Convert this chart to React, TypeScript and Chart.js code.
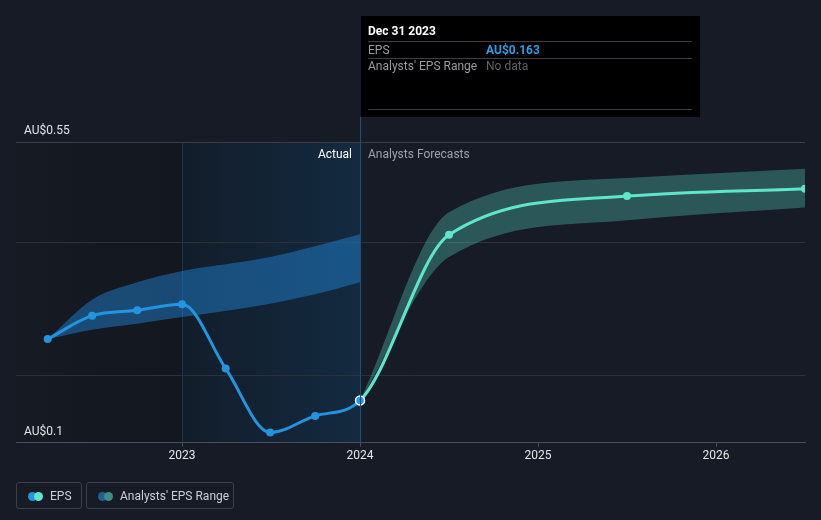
import React, { useEffect, useRef } from "react";
import { Chart, registerables } from "chart.js";

Chart.register(...registerables);

// ---- Data (decimal years) ----
const actualDates = [2022.245, 2022.495, 2022.748, 2023.0, 2023.245, 2023.495, 2023.748, 2024.0];
const actualEps = [0.255, 0.29, 0.298, 0.307, 0.211, 0.115, 0.14, 0.163];
const pastRangeHigh = [0.255, 0.314, 0.34, 0.357, 0.367, 0.378, 0.394, 0.412];
const pastRangeLow = [0.255, 0.269, 0.278, 0.288, 0.297, 0.308, 0.322, 0.34];

const forecastDates = [2024.0, 2024.5, 2025.5, 2026.5];
const forecastEps = [0.163, 0.411, 0.469, 0.48];
const forecastHigh = [0.163, 0.445, 0.496, 0.51];
const forecastLow = [0.163, 0.378, 0.433, 0.452];

const xTickYears = [2023, 2024, 2025, 2026];
const yGridValues = [0.1, 0.2, 0.4, 0.55];
const yLabelValues = [0.1, 0.55];
const xMin = 2022.067;
const xMax = 2026.5;
const yMin = 0.1;
const yMax = 0.55;
const highlightStart = 2023.0;
const nowDate = 2024.0;

const tooltipTitle = "Dec 31 2023";
const tooltipRows = [
  { label: "EPS", value: "AU$0.163", color: "#2d9de6", bold: true },
  { label: "Analysts' EPS Range", value: "No data", color: "#5f6368", bold: false },
];

const FONT = "Roboto, 'Noto Sans', Arial, sans-serif";
const BLUE = "#2394df";
const TEAL = "#5ee6cd";
const BG = "#161b26";

const pts = (xs: number[], ys: number[]) => xs.map((x, i) => ({ x, y: ys[i] }));

// one continuous EPS series (actual followed by forecast, sharing the "now" point)
const epsSeries = [...pts(actualDates, actualEps), ...pts(forecastDates.slice(1), forecastEps.slice(1))];

const overlayPlugin = {
  id: "overlay",
  beforeDraw(chart: any) {
    const { ctx, chartArea, scales } = chart;
    const { left, top, bottom } = chartArea;
    const x = scales.x;
    const x23 = x.getPixelForValue(highlightStart);
    const x24 = x.getPixelForValue(nowDate);
    ctx.save();
    let g = ctx.createLinearGradient(left, 0, x23, 0);
    g.addColorStop(0, "#151a23");
    g.addColorStop(1, "#13171f");
    ctx.fillStyle = g;
    ctx.fillRect(left, top, x23 - left, bottom - top);
    g = ctx.createLinearGradient(x23, 0, x24, 0);
    g.addColorStop(0, "#121d2a");
    g.addColorStop(1, "#132a40");
    ctx.fillStyle = g;
    ctx.fillRect(x23, top, x24 - x23, bottom - top);
    ctx.strokeStyle = "#1a3549";
    ctx.lineWidth = 1;
    ctx.beginPath();
    ctx.moveTo(Math.round(x23) + 0.5, top);
    ctx.lineTo(Math.round(x23) + 0.5, bottom);
    ctx.stroke();
    ctx.restore();
  },
  afterDraw(chart: any) {
    const { ctx, chartArea, scales } = chart;
    const { left, top, bottom } = chartArea;
    const x = scales.x;
    const y = scales.y;
    const x24 = x.getPixelForValue(nowDate);
    ctx.save();
    // y labels
    ctx.font = `12px ${FONT}`;
    ctx.fillStyle = "#e2e4e6";
    ctx.textAlign = "left";
    ctx.textBaseline = "middle";
    yLabelValues.forEach((v) => {
      ctx.fillText(`AU$${v}`, left + 8, y.getPixelForValue(v) - 11);
    });
    // Actual / Forecast labels
    ctx.textAlign = "right";
    ctx.fillStyle = "#ffffff";
    ctx.fillText("Actual", x24 - 8, top + 13);
    ctx.textAlign = "left";
    ctx.fillStyle = "#9ea3a9";
    ctx.fillText("Analysts Forecasts", x24 + 8, top + 13);

    // tooltip box
    const boxL = x24 + 1;
    const boxT = 16;
    const boxW = 339;
    const boxH = 101;
    // hover line
    ctx.strokeStyle = "#1f4f78";
    ctx.lineWidth = 1;
    ctx.beginPath();
    ctx.moveTo(Math.round(x24) + 0.5, boxT + boxH);
    ctx.lineTo(Math.round(x24) + 0.5, bottom);
    ctx.stroke();

    ctx.fillStyle = "#000000";
    ctx.fillRect(boxL, boxT, boxW, boxH);
    const tx = boxL + 7;
    const vx = boxL + 125;
    const rx = boxL + boxW - 8;
    ctx.font = `bold 12px ${FONT}`;
    ctx.fillStyle = "#ffffff";
    ctx.textBaseline = "middle";
    ctx.fillText(tooltipTitle, tx, boxT + 16);
    ctx.strokeStyle = "#3c3f44";
    const line = (yy: number) => {
      ctx.beginPath();
      ctx.moveTo(tx, yy + 0.5);
      ctx.lineTo(rx, yy + 0.5);
      ctx.stroke();
    };
    line(boxT + 25);
    tooltipRows.forEach((r, i) => {
      const cy = boxT + 34.5 + i * 16.5;
      ctx.font = `12px ${FONT}`;
      ctx.fillStyle = "#9a9da1";
      ctx.fillText(r.label, tx, cy);
      ctx.font = `${r.bold ? "bold " : ""}12px ${FONT}`;
      ctx.fillStyle = r.color;
      ctx.fillText(r.value, vx, cy);
      if (i === 0) line(boxT + 42);
    });
    line(boxT + 93);
    ctx.restore();
  },
};

function Legend() {
  const box: React.CSSProperties = {
    position: "absolute",
    top: 482,
    height: 27,
    border: "1px solid #3a3f48",
    borderRadius: 3,
    boxSizing: "border-box",
    display: "flex",
    alignItems: "center",
    fontFamily: FONT,
    fontSize: 12,
    color: "#cdd0d4",
  };
  const dot = (c: string, l: number): React.CSSProperties => ({
    position: "absolute",
    left: l,
    top: 8.5,
    width: 9,
    height: 9,
    borderRadius: "50%",
    background: c,
  });
  return (
    <>
      <div style={{ ...box, left: 16, width: 66 }}>
        <span style={dot(BLUE, 11)} />
        <span style={dot(TEAL, 17)} />
        <span style={{ position: "absolute", left: 33 }}>EPS</span>
      </div>
      <div style={{ ...box, left: 86, width: 148 }}>
        <span style={dot("#22608f", 11)} />
        <span style={dot("#3e8d84", 17)} />
        <span style={{ position: "absolute", left: 33 }}>Analysts' EPS Range</span>
      </div>
    </>
  );
}

export default function App() {
  const ref = useRef<HTMLCanvasElement>(null);
  useEffect(() => {
    if (!ref.current) return;
    const isNow = (p: any) => p.x === nowDate;
    const isForecast = (p: any) => p.x > nowDate;
    const chart = new Chart(ref.current, {
      type: "line",
      data: {
        datasets: [
          {
            label: "EPS",
            data: epsSeries,
            borderColor: BLUE,
            backgroundColor: BLUE,
            borderWidth: 3,
            cubicInterpolationMode: "monotone",
            segment: {
              borderColor: (c: any) => (c.p0.parsed.x >= nowDate ? TEAL : BLUE),
            },
            pointRadius: epsSeries.map((p) => (isNow(p) ? 4.5 : 4)),
            pointBorderColor: epsSeries.map((p) => (isNow(p) ? "#ffffff" : "transparent")),
            pointBorderWidth: epsSeries.map((p) => (isNow(p) ? 1.5 : 0)),
            pointBackgroundColor: epsSeries.map((p) => (isForecast(p) ? TEAL : BLUE)),
            fill: false,
          },
          {
            label: "Past range high",
            data: pts(actualDates, pastRangeHigh),
            borderWidth: 0,
            borderColor: "transparent",
            pointRadius: 0,
            cubicInterpolationMode: "monotone",
            backgroundColor: "rgba(33,138,222,0.45)",
            fill: "+1",
          },
          {
            label: "Past range low",
            data: pts(actualDates, pastRangeLow),
            borderWidth: 0,
            borderColor: "transparent",
            pointRadius: 0,
            cubicInterpolationMode: "monotone",
            fill: false,
          },
          {
            label: "Forecast range high",
            data: pts(forecastDates, forecastHigh),
            borderWidth: 0,
            borderColor: "transparent",
            pointRadius: 0,
            cubicInterpolationMode: "monotone",
            backgroundColor: "rgba(94,230,205,0.3)",
            fill: "+1",
          },
          {
            label: "Forecast range low",
            data: pts(forecastDates, forecastLow),
            borderWidth: 0,
            borderColor: "transparent",
            pointRadius: 0,
            cubicInterpolationMode: "monotone",
            fill: false,
          },
        ],
      },
      options: {
        animation: false,
        responsive: false,
        maintainAspectRatio: false,
        layout: { padding: { left: 16, right: 16, top: 142, bottom: 55 } },
        plugins: { legend: { display: false }, tooltip: { enabled: false } },
        events: [],
        scales: {
          x: {
            type: "linear",
            min: xMin,
            max: xMax,
            afterBuildTicks: (axis: any) => {
              axis.ticks = xTickYears.map((v) => ({ value: v }));
            },
            grid: {
              drawOnChartArea: false,
              drawTicks: true,
              tickLength: 4,
              color: "#4a4f58",
            },
            border: { display: true, color: "#4a4f58" },
            ticks: {
              color: "#e6e7e9",
              padding: 2,
              font: { family: FONT, size: 12 },
              maxRotation: 0,
              callback: (v: any) => String(v),
            },
          },
          y: {
            type: "linear",
            min: yMin,
            max: yMax,
            afterBuildTicks: (axis: any) => {
              axis.ticks = yGridValues.map((v) => ({ value: v }));
            },
            grid: {
              drawTicks: false,
              color: (c: any) => (c.tick && c.tick.value === yMax ? "#3a3f47" : c.tick && c.tick.value === yMin ? "transparent" : "#2b3039"),
            },
            border: { display: false },
            ticks: { display: false },
          },
        },
      },
      plugins: [overlayPlugin],
    } as any);
    return () => chart.destroy();
  }, []);

  return (
    <div style={{ position: "absolute", left: 0, top: 0, width: 821, height: 520, background: BG, overflow: "hidden" }}>
      <canvas ref={ref} width={821} height={520} style={{ position: "absolute", left: 0, top: 0 }} />
      <Legend />
    </div>
  );
}
